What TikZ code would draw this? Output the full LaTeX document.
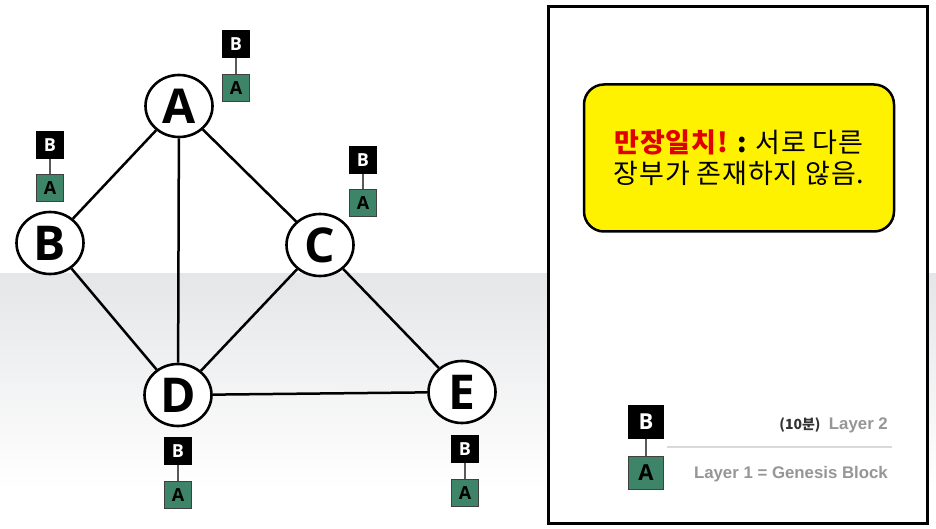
\documentclass[tikz,border=0pt]{standalone}
\usepackage{fontspec}
\usetikzlibrary{shapes.geometric}
\setmainfont{Liberation Sans}
\newfontfamily\kr{Noto Sans CJK KR}
\newfontfamily\krwide{Noto Sans CJK KR}[LetterSpace=3]
\newfontfamily\osans{Open Sans}
\definecolor{gen}{RGB}{62,132,104}
\definecolor{bandgray}{RGB}{229,230,232}
\definecolor{legendgray}{RGB}{150,150,150}
\definecolor{alertred}{RGB}{225,0,0}
\begin{document}
\begin{tikzpicture}[x=1pt,y=-1pt,
  peer/.style={ellipse, draw=black, line width=2.6pt, fill=white,
    minimum width=67pt, minimum height=62pt, inner sep=0pt,
    font=\osans\bfseries\fontsize{48}{48}\selectfont},
  conn/.style={line width=2.5pt, draw=black},
  blkB/.style={rectangle, fill=black, draw=black, minimum width=27pt,
    minimum height=27pt, inner sep=0pt, text=white,
    font=\osans\bfseries\fontsize{18}{18}\selectfont},
  blkA/.style={rectangle, fill=gen, draw=black!75, line width=0.9pt,
    minimum width=27pt, minimum height=27pt, inner sep=0pt, text=black,
    font=\osans\bfseries\fontsize{18}{18}\selectfont},
  chain/.style={line width=1.4pt, draw=black!65},
  bigB/.style={blkB, minimum width=35pt, minimum height=33pt,
    font=\osans\bfseries\fontsize{22}{22}\selectfont},
  bigA/.style={blkA, minimum width=35pt, minimum height=33pt,
    font=\osans\bfseries\fontsize{22}{22}\selectfont},
  legtext/.style={inner sep=0pt, text=legendgray,
    font=\bfseries\fontsize{16.8}{16.8}\selectfont}
]
\useasboundingbox (0,0) rectangle (936,529);
\fill[white] (0,0) rectangle (936,529);
\shade[top color=bandgray, bottom color=white] (0,273) rectangle (936,490);

% network
\node[peer] (A) at (179,106) {A};
\node[peer] (B) at (50,243) {B};
\node[peer] (C) at (320,245) {C};
\node[peer] (D) at (178,395) {D};
\node[peer] (E) at (462,392) {E};
\draw[conn] (A) -- (B);
\draw[conn] (A) -- (C);
\draw[conn] (A) -- (D);
\draw[conn] (B) -- (D);
\draw[conn] (C) -- (D);
\draw[conn] (C) -- (E);
\draw[conn] (D) -- (E);

% block chains
\node[blkB] (aB) at (236,44) {B};
\node[blkA] (aA) at (236,88) {A};
\draw[chain] (aB) -- (aA);
\node[blkB] (bB) at (50,145) {B};
\node[blkA] (bA) at (50,188) {A};
\draw[chain] (bB) -- (bA);
\node[blkB] (cB) at (363,160) {B};
\node[blkA] (cA) at (363,203) {A};
\draw[chain] (cB) -- (cA);
\node[blkB] (dB) at (178,451) {B};
\node[blkA] (dA) at (178,495) {A};
\draw[chain] (dB) -- (dA);
\node[blkB] (eB) at (465,449) {B};
\node[blkA] (eA) at (465,493) {A};
\draw[chain] (eB) -- (eA);

% right panel
\node[draw=black, line width=3pt, fill=white, minimum width=379pt,
  minimum height=516pt, inner sep=0pt] (panel) at (737.5,265) {};
\node[draw=black, line width=2.5pt, fill=yellow, rounded corners=20pt,
  minimum width=310pt, minimum height=147pt, align=center,
  font=\krwide\fontsize{27}{31}\selectfont] (msg) at (739,158)
  {{\bfseries\color{alertred}만장일치!} {\bfseries :} 서로 다른\\장부가 존재하지 않음.};

% legend
\node[bigB] (lB) at (646,422) {B};
\node[bigA] (lA) at (646,473) {A};
\draw[chain] (lB) -- (lA);
\coordinate (sepL) at (667,447);
\coordinate (sepR) at (892,447);
\draw[line width=1.3pt, draw=black!15] (sepL) -- (sepR);
\node[legtext, anchor=east] (l2) at (888,425) {Layer 2};
\node[inner sep=0pt, anchor=east, text=black!80,
  font=\kr\bfseries\fontsize{14}{14}\selectfont] (min) at ([xshift=-8pt]l2.west) {(10분)};
\node[legtext, anchor=east] (l1) at (888,474) {Layer 1 = Genesis Block};
\end{tikzpicture}
\end{document}
